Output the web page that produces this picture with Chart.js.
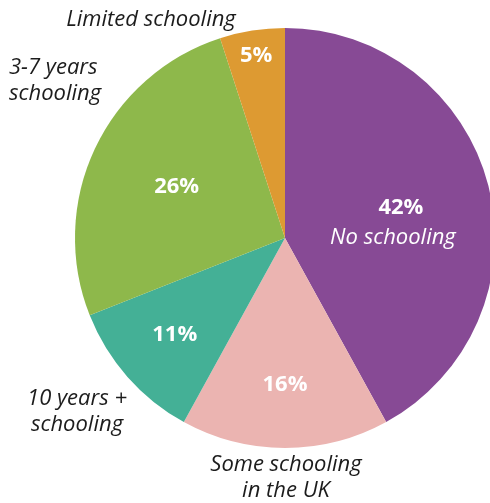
<!DOCTYPE html>
<html lang="en">
<head>
    <meta charset="UTF-8">
    <title>Schooling pie</title>
    <script src="https://cdn.jsdelivr.net/npm/chart.js"></script>
    <style>
        html, body {
            margin: 0;
            padding: 0;
            background: #ffffff;
            overflow: hidden;
            width: 490px;
            height: 503px;
        }
        #schoolChart {
            display: block;
        }
    </style>
</head>
<body>
    <canvas id="schoolChart" width="520" height="503"></canvas>

    <script>
        // datos del grafico
        const categories = ['No schooling', 'Some schooling in the UK', '10 years + schooling', '3-7 years schooling', 'Limited schooling'];
        const shares = [42, 16, 11, 26, 5];
        const sliceColors = ['#874a95', '#ebb4b1', '#44b096', '#8eb84b', '#dd9a32'];

        // etiquetas exteriores (texto, alineacion, posicion)
        const outsideLabels = [
            { lines: ['Some schooling', 'in the UK'], x: 286, y: 465, align: 'center' },
            { lines: ['10 years +', 'schooling'], x: 77, y: 399, align: 'center' },
            { lines: ['3-7 years', 'schooling'], x: 9, y: 68, align: 'left' },
            { lines: ['Limited schooling'], x: 151, y: 20, align: 'center' }
        ];
        // distancia relativa del porcentaje al centro
        const pctRadius = [0.57, 0.70, 0.70, 0.57, 0.88];

        const labelPlugin = {
            id: 'sliceLabels',
            afterDatasetsDraw(chart) {
                const ctx = chart.ctx;
                const meta = chart.getDatasetMeta(0);
                ctx.save();
                ctx.textBaseline = 'middle';
                ctx.textAlign = 'center';
                meta.data.forEach((arc, i) => {
                    const mid = (arc.startAngle + arc.endAngle) / 2;
                    const r = arc.outerRadius * pctRadius[i];
                    const x = arc.x + Math.cos(mid) * r;
                    const y = arc.y + Math.sin(mid) * r;
                    ctx.fillStyle = '#ffffff';
                    ctx.font = 'bold 22px "Open Sans"';
                    ctx.fillText(shares[i] + '%', x, y);
                    if (i === 0) {
                        ctx.font = 'italic 500 22px "Open Sans"';
                        ctx.fillText(categories[0], x - 8, y + 30);
                    }
                });
                ctx.fillStyle = '#1c1c1c';
                ctx.font = 'italic 500 22px "Open Sans"';
                outsideLabels.forEach(lb => {
                    ctx.textAlign = lb.align;
                    lb.lines.forEach((t, k) => {
                        ctx.fillText(t, lb.x, lb.y + k * 26);
                    });
                });
                ctx.restore();
            }
        };

        window.onload = function () {
            const ctx = document.getElementById('schoolChart').getContext('2d');
            new Chart(ctx, {
                type: 'pie',
                data: {
                    labels: categories,
                    datasets: [{
                        data: shares,
                        backgroundColor: sliceColors,
                        borderWidth: 0
                    }]
                },
                options: {
                    responsive: false,
                    animation: false,
                    devicePixelRatio: 1,
                    layout: {
                        padding: { left: 75, right: 25, top: 28, bottom: 55 }
                    },
                    plugins: {
                        legend: { display: false },
                        tooltip: { enabled: false }
                    }
                },
                plugins: [labelPlugin]
            });
        };
    </script>
</body>
</html>
